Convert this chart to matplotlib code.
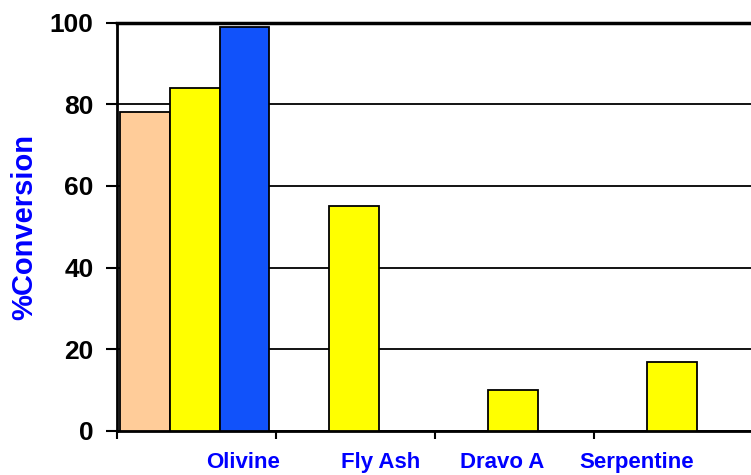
import numpy as np
import matplotlib.pyplot as plt

plt.rcParams['font.family'] = ['Liberation Sans', 'DejaVu Sans']

# data
categories = ['Olivine', 'Fly Ash', 'Dravo A', 'Serpentine']
series_a = [78, np.nan, np.nan, np.nan]   # peach
series_b = [84, 55, 10, 17]               # yellow
series_c = [99, np.nan, np.nan, np.nan]   # blue
yticks = [0, 20, 40, 60, 80, 100]

colors = ['#FFCC99', '#FFFF00', '#1152FA']
label_pos = [0.79, 1.66, 2.42, 3.27]   # labels sit off-centre in the original

fig = plt.figure(figsize=(7.51, 4.75), dpi=100)
ax = fig.add_axes([117/751, 44/475, 636/751, 408.5/475])

x = np.arange(len(categories))
w = 0.312
centre = 0.49
for k, (vals, c) in enumerate(zip([series_a, series_b, series_c], colors)):
    ax.bar(x + centre + (k - 1) * w, vals, width=w, color=c,
           edgecolor='black', linewidth=1.3, zorder=3)

ax.set_xlim(0, 4)
ax.set_ylim(0, 100)
ax.set_yticks(yticks)
ax.yaxis.grid(True, color='black', linewidth=1.3, zorder=0)
ax.set_axisbelow(True)

# boundaries as major ticks, labels on minor ticks
ax.set_xticks(np.arange(0, 5))
ax.set_xticklabels([])
ax.set_xticks(label_pos, minor=True)
ax.set_xticklabels(categories, minor=True)
ax.tick_params(axis='x', which='major', direction='out', length=6, width=1.5)
ax.tick_params(axis='x', which='minor', length=0, pad=15,
               labelsize=16, labelcolor='#0000FF')
for t in ax.get_xticklabels(minor=True):
    t.set_fontweight('bold')

ax.tick_params(axis='y', direction='out', length=8, width=1.5, pad=9,
               labelsize=19)
for t in ax.get_yticklabels():
    t.set_fontweight('bold')

ax.set_ylabel('%Conversion', fontsize=21, fontweight='bold', color='#0000FF')
ax.yaxis.set_label_coords(-0.124, 0.5)

ax.spines['left'].set_linewidth(2)
ax.spines['bottom'].set_linewidth(2)
ax.spines['top'].set_linewidth(2.5)
ax.spines['right'].set_visible(False)

fig.savefig('out.png', dpi=100)
